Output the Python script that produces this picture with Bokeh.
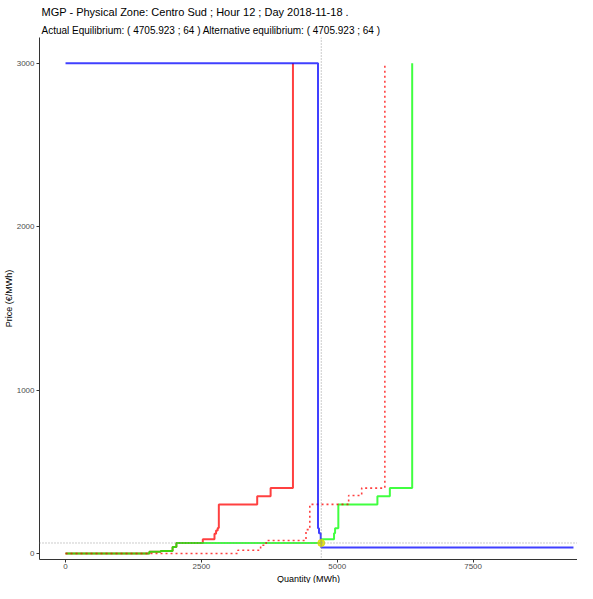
from bokeh.plotting import figure
from bokeh.models import Range1d, FixedTicker, Title, Span
from bokeh.embed import file_html
from bokeh.resources import INLINE

# ---- data ----
# step curves: end quantity of each step (MWh) and price of that step (EUR/MWh)
demand_q = [4646, 4664, 4696, 4706, 9347]
demand_p = [3000, 154, 124, 80, 37]

supply_q = [1543, 1750, 1970, 2040, 2526, 2741, 2770, 2800, 2821, 3527, 3774, 4185, 4185]
supply_p = [0, 10, 15, 40, 64, 87, 120, 140, 155, 300, 350, 400, 3000]

alt_supply_q = [1543, 1750, 1970, 2040, 4706, 4941, 4960, 5020, 5739, 5968, 6379, 6379]
alt_supply_p = [0, 10, 15, 40, 64, 87, 124, 154, 300, 350, 400, 3000]

alt_demand_q = [3170, 3590, 3690, 4425, 4495, 5210, 5450, 5876, 5876]
alt_demand_p = [0, 20, 50, 79, 146, 300, 355, 400, 3000]

eq_q = [4705.923]
eq_p = [64]

x_ticks = [0, 2500, 5000, 7500]
y_ticks = [0, 1000, 2000, 3000]

title_text = "MGP - Physical Zone: Centro Sud ; Hour 12 ; Day 2018-11-18 ."
subtitle_text = "Actual Equilibrium: ( 4705.923 ; 64 ) Alternative equilibrium: ( 4705.923 ; 64 )"
x_label = "Quantity (MWh)"
y_label = "Price (€/MWh)"


def step_path(q_end, price):
    xs, ys = [0], [price[0]]
    for i in range(len(q_end)):
        xs.append(q_end[i]); ys.append(price[i])
        if i + 1 < len(price):
            xs.append(q_end[i]); ys.append(price[i + 1])
    return xs, ys


p = figure(width=577, height=583, output_backend="svg", toolbar_location=None,
           title=None,
           x_range=Range1d(-479, 9421), y_range=Range1d(-37, 3157),
           min_border_left=37, min_border_right=0, min_border_top=0, min_border_bottom=0,
           y_axis_label=y_label)

p.add_layout(Title(text=subtitle_text, text_font_size="10px", text_font="Liberation Sans",
                   text_font_style="normal", text_color="#000000", standoff=4, offset=2), "above")
p.add_layout(Title(text=title_text, text_font_size="11px", text_font="Liberation Sans",
                   text_font_style="normal", text_color="#000000", standoff=6, offset=2), "above")
p.add_layout(Title(text=x_label, text_font_size="9px", text_font="Liberation Sans",
                   text_font_style="normal", text_color="#000000", align="center",
                   standoff=0), "below")

p.outline_line_color = None
p.xgrid.visible = False
p.ygrid.visible = False
p.background_fill_color = "white"
p.border_fill_color = "white"

for ax in (p.xaxis, p.yaxis):
    ax.axis_line_color = "#333333"
    ax.axis_line_width = 1
    ax.major_tick_line_color = "#333333"
    ax.major_tick_out = 3
    ax.major_tick_in = 0
    ax.minor_tick_line_color = None
    ax.major_label_text_font_size = "8px"
    ax.major_label_text_color = "#4d4d4d"
    ax.major_label_text_font = "Liberation Sans"
    ax.axis_label_text_font_size = "9px"
    ax.axis_label_text_font = "Liberation Sans"
    ax.axis_label_text_font_style = "normal"
    ax.axis_label_text_color = "#000000"

p.xaxis.major_label_standoff = 1
p.yaxis.major_label_standoff = 2
p.yaxis.axis_label_standoff = 0

p.xaxis.ticker = FixedTicker(ticks=x_ticks)
p.yaxis.ticker = FixedTicker(ticks=y_ticks)

xs, ys = step_path(supply_q, supply_p)
p.line(xs, ys, line_color="#ff0000", line_width=2, line_alpha=0.75)
xs, ys = step_path(alt_supply_q, alt_supply_p)
p.line(xs, ys, line_color="#00ff00", line_width=2, line_alpha=0.75)
xs, ys = step_path(alt_demand_q, alt_demand_p)
p.line(xs, ys, line_color="#ff0000", line_width=1.6, line_alpha=0.75, line_dash="2 3")
xs, ys = step_path(demand_q, demand_p)
p.line(xs, ys, line_color="#0000ff", line_width=2, line_alpha=0.75)

p.add_layout(Span(location=eq_q[0], dimension="height", line_color="#999999",
                  line_width=1, line_dash="1 2"))
p.add_layout(Span(location=eq_p[0], dimension="width", line_color="#999999",
                  line_width=1, line_dash="1 2"))

p.scatter(eq_q, eq_p, size=7, color="#dddd00", alpha=0.85)

open("out.html", "w").write(file_html(p, INLINE))
